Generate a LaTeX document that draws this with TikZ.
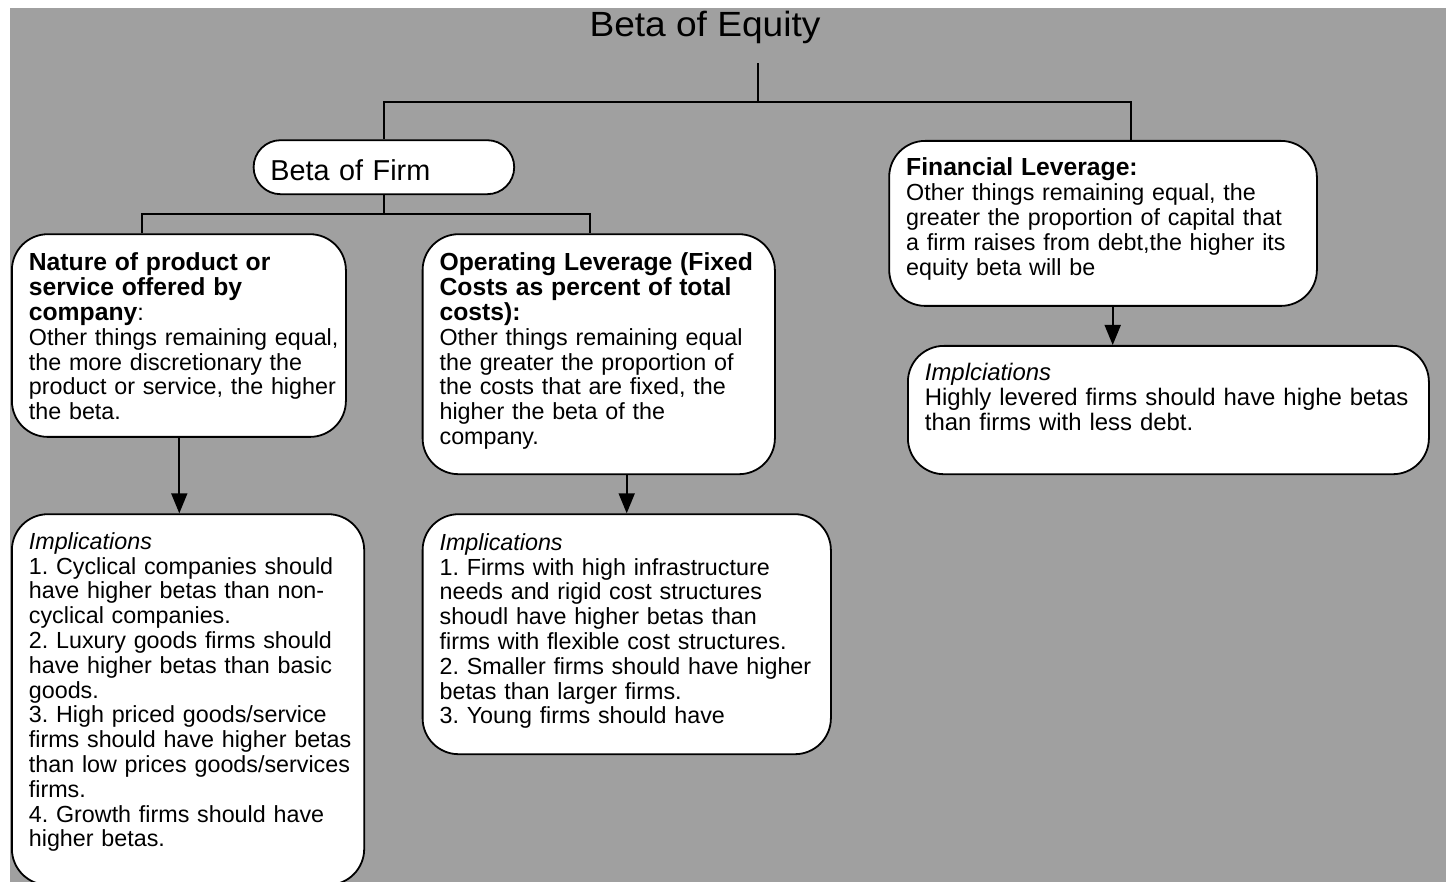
\documentclass[tikz,border=0pt]{standalone}
\usepackage{fontspec}
\usepackage{graphicx}
\setmainfont{Liberation Sans}
\usetikzlibrary{arrows.meta}
\definecolor{bggray}{RGB}{160,160,160}
\newcommand\rgx{\fontsize{23.3}{24.8}\selectfont\frenchspacing}
\newcommand\hdx{\fontsize{24.7}{24.8}\selectfont\bfseries}
\newcommand\lnx[1]{\mbox{#1}}
\tikzset{
  card/.style={draw=black, line width=1.8pt, fill=white, rounded corners=36pt,
    anchor=north west, inner xsep=17pt, inner ysep=0pt, align=left, font=\rgx},
  link/.style={draw=black, line width=1.8pt},
  arr/.style={link, -{Triangle[length=20pt,width=16pt]}},
}
\begin{document}
\frenchspacing
\begin{tikzpicture}[x=1pt,y=-1pt]
\clip (0,0) rectangle (1446,882);
\fill[white] (0,0) rectangle (1446,882);
\fill[bggray] (10,8) rectangle (1446,882);

% title
\node[font=\fontsize{35}{40}\selectfont, anchor=base, inner sep=0pt] (eq) at (705,36.5)
  {\scalebox{1.06}[1]{Beta of Equity}};

% beta of firm
\node[card, rounded corners=27pt, inner xsep=16.7pt, text width=227.2pt,
  text height=40.7pt, text depth=13.3pt, font=\fontsize{28.8}{30}\selectfont]
  (firm) at (252.7,139.3) {Beta of Firm};

% boxes
\node[card, text width=300pt, text height=36.7pt, text depth=166pt] (nat) at (11,233.3)
{\lnx{\hdx Nature of product or}\\
\lnx{\hdx service offered by}\\
\lnx{{\hdx company}:}\\
\lnx{Other things remaining equal,}\\
\lnx{the more discretionary the}\\
\lnx{product or service, the higher}\\
\lnx{the beta.}};

\node[card, text width=318.3pt, text height=36.7pt, text depth=203.3pt] (opl) at (421.7,233.3)
{\lnx{\hdx Operating Leverage (Fixed}\\
\lnx{\hdx Costs as percent of total}\\
\lnx{\hdx costs):}\\
\lnx{Other things remaining equal}\\
\lnx{the greater the proportion of}\\
\lnx{the costs that are fixed, the}\\
\lnx{higher the beta of the}\\
\lnx{company.}};

\node[card, text width=318.3pt, text height=35pt, text depth=335.7pt] (imp1) at (11,513.3)
{\lnx{\itshape Implications}\\
\lnx{1. Cyclical companies should}\\
\lnx{have higher betas than non-}\\
\lnx{cyclical companies.}\\
\lnx{2. Luxury goods firms should}\\
\lnx{have higher betas than basic}\\
\lnx{goods.}\\
\lnx{3. High priced goods/service}\\
\lnx{firms should have higher betas}\\
\lnx{than low prices goods/services}\\
\lnx{firms.}\\
\lnx{4. Growth firms should have}\\
\lnx{higher betas.}};

\node[card, text width=374.3pt, text height=36pt, text depth=204pt] (imp2) at (421.7,513.3)
{\lnx{\itshape Implications}\\
\lnx{1. Firms with high infrastructure}\\
\lnx{needs and rigid cost structures}\\
\lnx{shoudl have higher betas than}\\
\lnx{firms with flexible cost structures.}\\
\lnx{2. Smaller firms should have higher}\\
\lnx{betas than larger firms.}\\
\lnx{3. Young firms should have}};

\node[card, text width=393.7pt, text height=35pt, text depth=130pt] (fin) at (888.3,140)
{\lnx{\hdx Financial Leverage:}\\
\lnx{Other things remaining equal, the}\\
\lnx{greater the proportion of capital that}\\
\lnx{a firm raises from debt,the higher its}\\
\lnx{equity beta will be}};

\node[card, text width=487pt, text height=35pt, text depth=93.3pt,
  font=\fontsize{23.9}{24.6}\selectfont\frenchspacing] (imp3) at (907,345)
{\lnx{\itshape Implciations}\\
\lnx{Highly levered firms should have highe betas}\\
\lnx{than firms with less debt.}};

% connectors
\coordinate (eqdrop) at (757.7,63.3);
\coordinate (busL) at (384.3,101.7);
\coordinate (busR) at (1131,101.7);
\coordinate (n1) at (141.7,214.3);
\coordinate (n2) at (590,214.3);
\coordinate (a1x) at (179.3,0);
\coordinate (a2x) at (626.7,0);
\coordinate (a3x) at (1112.7,0);

\draw[link] (eqdrop) -- (eqdrop |- busL);
\draw[link] (firm.north) -- (firm.north |- busL) -- (busR) -- (busR |- fin.north);
\draw[link] (firm.south) -- (firm.south |- n1);
\draw[link] (n1 |- nat.north) -- (n1) -- (n2) -- (n2 |- opl.north);
\draw[arr] (nat.south -| a1x) -- (imp1.north -| a1x);
\draw[arr] (opl.south -| a2x) -- (imp2.north -| a2x);
\draw[arr] (fin.south -| a3x) -- (imp3.north -| a3x);
\end{tikzpicture}
\end{document}
